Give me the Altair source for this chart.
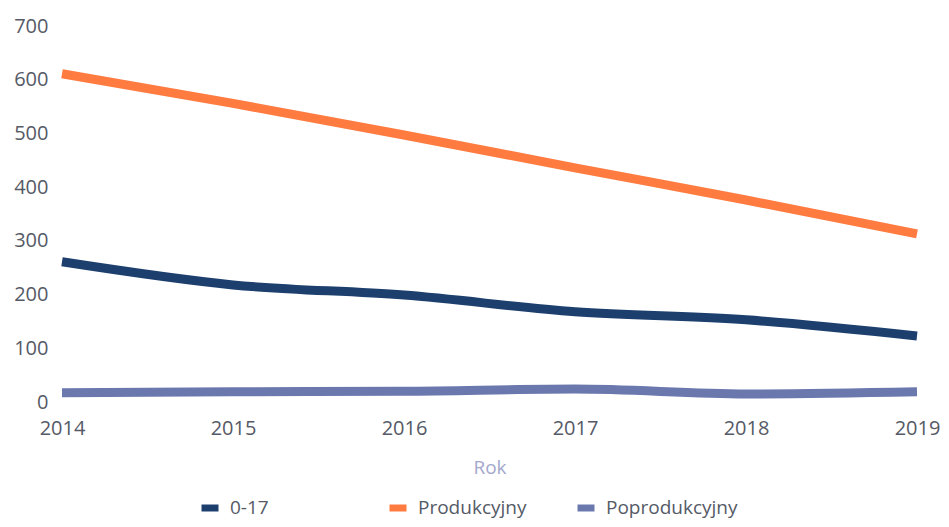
import altair as alt
import pandas as pd

years = [2014, 2015, 2016, 2017, 2018, 2019]
series_names = ["0-17", "Produkcyjny", "Poprodukcyjny"]
v_017 = [261, 218, 199, 168, 153, 123]
v_prod = [611, 556, 497, 436, 376, 313]
v_poprod = [17, 19, 20, 24, 15, 19]
colors = ["#1d3f6e", "#ff7b40", "#6b78ae"]

rows = []
for name, vals in zip(series_names, [v_017, v_prod, v_poprod]):
    for y, v in zip(years, vals):
        rows.append({"Rok": y, "Seria": name, "Wartość": v})
df = pd.DataFrame(rows)

font = "Open Sans"
label_color = "#555a66"

chart = alt.Chart(df).mark_line(strokeWidth=9, interpolate="monotone", strokeCap="butt").encode(
    x=alt.X("Rok:Q", scale=alt.Scale(domain=[2014, 2019], nice=False, zero=False),
            axis=alt.Axis(values=years, format="d", grid=False, domain=False, ticks=False,
                          labelFlush=False, labelOverlap=False,
                          labelFontSize=20, labelColor=label_color, labelPadding=16, labelFont=font,
                          title="Rok", titleColor="#a3a8cc", titleFontSize=19, titleFontWeight="normal",
                          titleFont=font, titlePadding=20)),
    y=alt.Y("Wartość:Q", scale=alt.Scale(domain=[0, 700], nice=False),
            axis=alt.Axis(values=[0, 100, 200, 300, 400, 500, 600, 700], grid=False, domain=False, ticks=False,
                          labelFontSize=20, labelColor=label_color, labelPadding=14, labelFont=font, title=None)),
    color=alt.Color("Seria:N", scale=alt.Scale(domain=series_names, range=colors),
                    legend=alt.Legend(title=None, orient="none", legendX=136, legendY=470,
                                      direction="horizontal", columns=3, gridAlign="all",
                                      columnPadding=13, symbolType="M-1,0H1",
                                      symbolSize=289, symbolStrokeWidth=7, labelFontSize=19,
                                      labelOffset=8, labelColor=label_color, labelFont=font,
                                      symbolOpacity=1, padding=0)),
    order=alt.Order("order:Q")
).transform_calculate(
    order="datum.Seria == '0-17' ? 0 : (datum.Seria == 'Produkcyjny' ? 1 : 2)"
).properties(
    width=855, height=376,
    autosize=alt.AutoSizeParams(type="none"),
    padding={"left": 54, "top": 18, "right": 24, "bottom": 117},
    background="white"
).configure_view(strokeWidth=0, stroke=None)

chart.save("out.html", embed_options={"renderer": "svg", "actions": False})
